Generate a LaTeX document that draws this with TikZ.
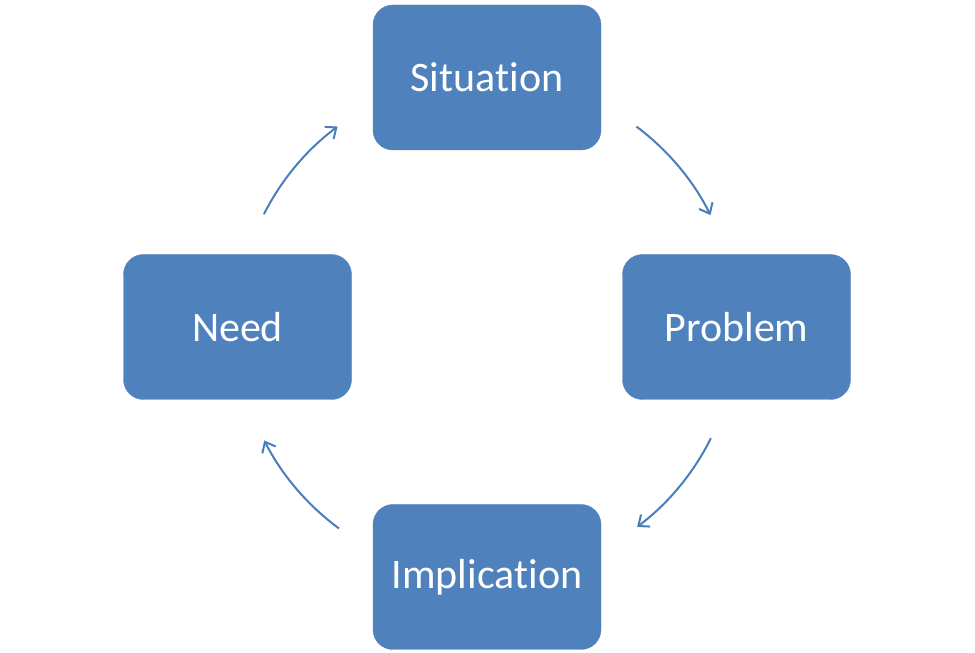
\documentclass[tikz,border=0pt]{standalone}
\usepackage{fontspec}
\setmainfont[Ligatures={NoCommon,NoContextual}]{Carlito}
\usetikzlibrary{arrows.meta,calc}
\definecolor{boxblue}{HTML}{4F81BD}
\definecolor{arrowblue}{HTML}{4A7EBB}
\tikzset{
  spinbox/.style={draw=boxblue, fill=boxblue, rounded corners=20pt, minimum width=228pt, minimum height=145pt, inner sep=0pt, text=white, font=\fontsize{42}{48}\selectfont},
  cyclearrow/.style={draw=arrowblue, line width=2pt, -{Straight Barb[length=9pt,width=15pt,line width=2pt]}}
}
\begin{document}
\begin{tikzpicture}[x=1pt,y=1pt]
\useasboundingbox (0,0) rectangle (975,653);
\coordinate (c) at (487,326);
\node[spinbox] (sit) at (487,575.5) {Situation};
\node[spinbox] (prob) at (736.5,326) {Problem};
\node[spinbox] (need) at (237.5,326) {Need};
\node[spinbox] (imp) at (487,76) {Implication};
\coordinate (s1) at ($(c)+(53.3:250)$);
\coordinate (s2) at ($(c)+(-26.4:250)$);
\coordinate (s3) at ($(c)+(-126.3:250)$);
\coordinate (s4) at ($(c)+(153.2:250)$);
\draw[cyclearrow] (s1) arc[start angle=53.3, end angle=26.6, radius=250];
\draw[cyclearrow] (s2) arc[start angle=-26.4, end angle=-53.1, radius=250];
\draw[cyclearrow] (s3) arc[start angle=-126.3, end angle=-153.0, radius=250];
\draw[cyclearrow] (s4) arc[start angle=153.2, end angle=126.7, radius=250];
\end{tikzpicture}
\end{document}
